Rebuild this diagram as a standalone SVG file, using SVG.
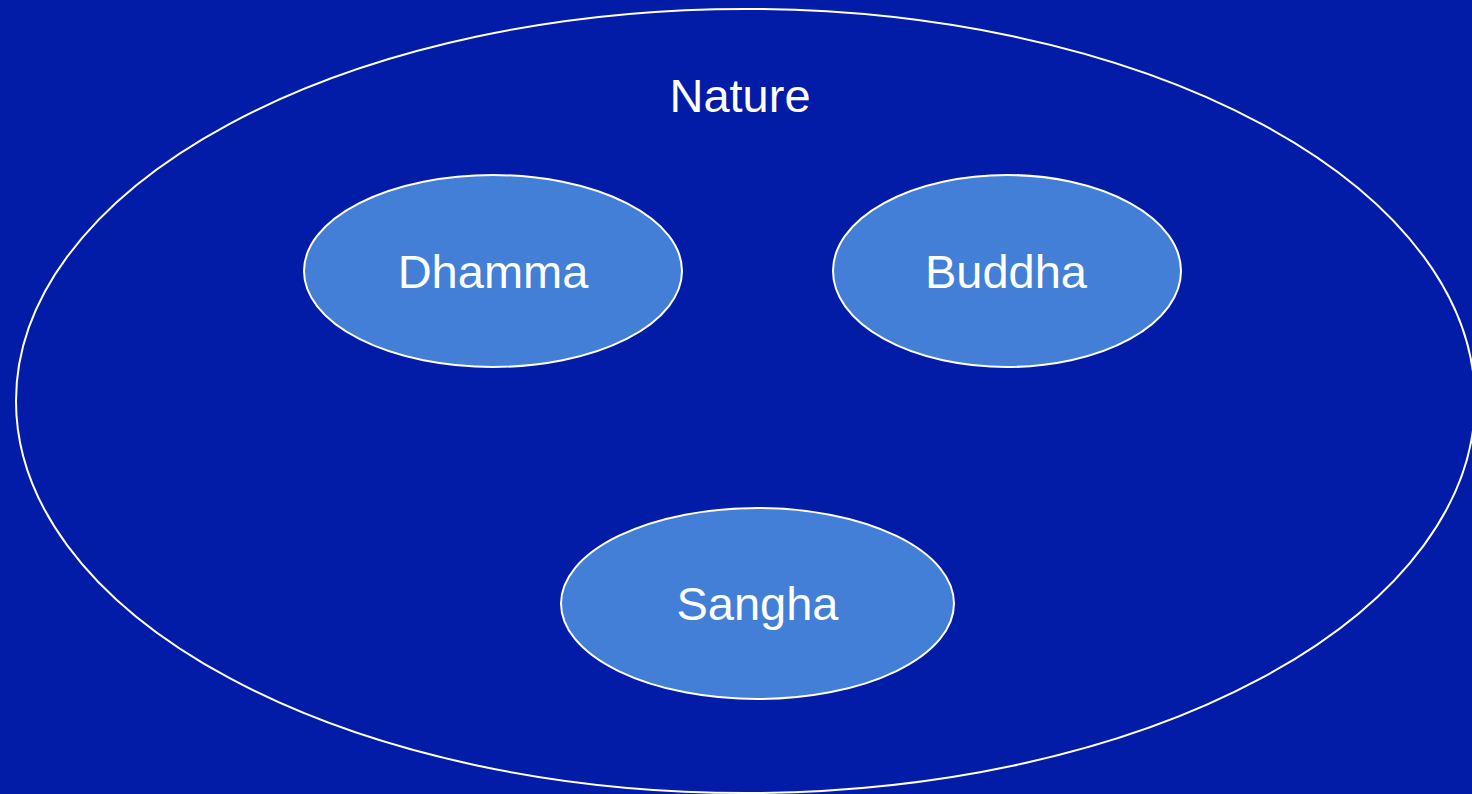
<svg xmlns="http://www.w3.org/2000/svg" width="1472" height="794" viewBox="0 0 1472 794">
<style>
.lbl{font-family:"Liberation Sans",Arial,sans-serif;font-size:47px;fill:#ffffff;text-anchor:middle}
.inner{fill:#437fd6;stroke:#ffffff;stroke-width:2}
</style>
<rect width="1472" height="794" fill="#031ca8"/>
<g id="nature">
<ellipse cx="745.5" cy="401" rx="729.5" ry="392" fill="none" stroke="#ffffff" stroke-width="2"/>
<text class="lbl" x="740" y="112">Nature</text>
</g>
<g id="dhamma">
<ellipse class="inner" cx="493" cy="271" rx="189" ry="96"/>
<text class="lbl" x="493" y="288">Dhamma</text>
</g>
<g id="buddha">
<ellipse class="inner" cx="1007" cy="271" rx="174" ry="96"/>
<text class="lbl" x="1006" y="288">Buddha</text>
</g>
<g id="sangha">
<ellipse class="inner" cx="757.5" cy="603.5" rx="196.5" ry="95.5"/>
<text class="lbl" x="757.5" y="620">Sangha</text>
</g>
<g id="connectors"></g>
</svg>
